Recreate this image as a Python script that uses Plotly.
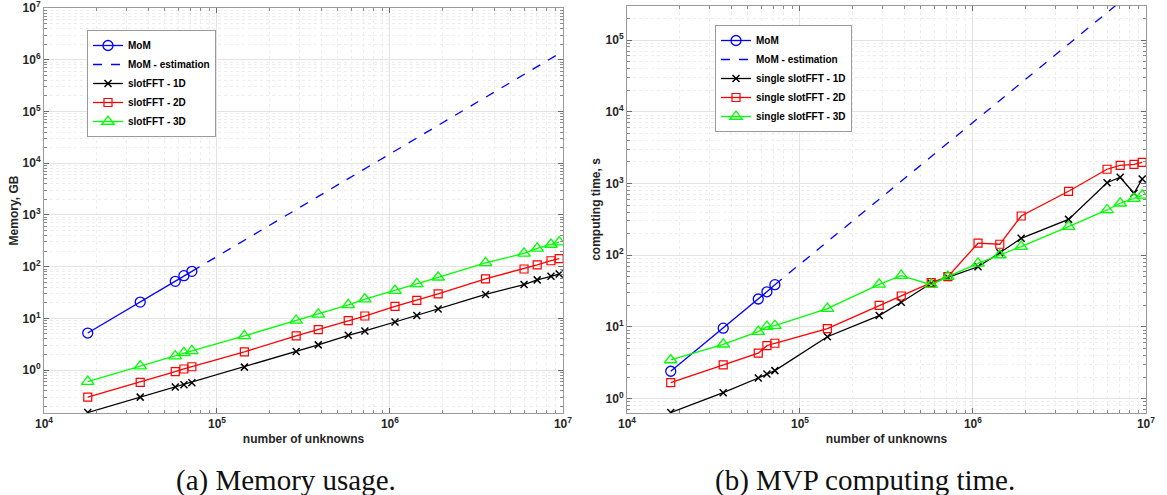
import plotly.graph_objects as go

# Problem sizes (number of unknowns)
n_unknowns = [17900, 36000, 57400, 64400, 71600, 144000, 287000, 385000, 574000,
              716000, 1070000, 1430000, 1900000, 3570000, 5960000, 7100000, 8530000, 9520000]
n_mom = n_unknowns[:5]
n_mom_est = [71600, 1e7]

# Memory usage, GB
mem_mom = [5.2, 20.6, 52, 67, 81]
mem_mom_est = [81, 1.45e6]
mem_1d = [0.151, 0.30, 0.47, 0.52, 0.57, 1.14, 2.29, 3.07, 4.71, 5.7, 8.5, 11.4, 15.1, 29, 45, 55.5, 65, 72]
mem_2d = [0.30, 0.58, 0.93, 1.05, 1.16, 2.25, 4.57, 6.06, 9.0, 11.1, 17, 22.2, 29.8, 58, 90, 108, 130, 143]
mem_3d = [0.60, 1.19, 1.86, 2.15, 2.35, 4.57, 9.1, 11.9, 18.3, 23.5, 34.5, 46.5, 62.3, 118, 180, 225, 268, 298]

# MVP computing time, s
t_mom = [2.41, 9.6, 24.5, 30.9, 38.8]
t_mom_est = [38.8, 6.7e5]
t_1d = [0.64, 1.21, 1.94, 2.21, 2.46, 7.3, 14.4, 22.1, 40.6, 49.2, 69, 108, 172, 316, 1025, 1220, 730, 1154]
t_2d = [1.67, 2.95, 4.3, 5.48, 5.92, 9.46, 20.0, 27, 41.4, 50.2, 147, 142, 352, 778, 1578, 1790, 1850, 1974]
t_3d = [3.46, 5.73, 8.6, 10.1, 10.4, 18.0, 39.3, 51.8, 38.8, 50.2, 77, 100.7, 131.5, 250, 427, 530, 614, 684]

# Decade tick positions and labels
x_tick_vals = [1e4, 1e5, 1e6, 1e7]
x_tick_text = ["10<sup>4</sup>", "10<sup>5</sup>", "10<sup>6</sup>", "10<sup>7</sup>"]
mem_tick_vals = [1e0, 1e1, 1e2, 1e3, 1e4, 1e5, 1e6, 1e7]
mem_tick_text = ["10<sup>0</sup>", "10<sup>1</sup>", "10<sup>2</sup>", "10<sup>3</sup>",
                 "10<sup>4</sup>", "10<sup>5</sup>", "10<sup>6</sup>", "10<sup>7</sup>"]
t_tick_vals = [1e0, 1e1, 1e2, 1e3, 1e4, 1e5]
t_tick_text = ["10<sup>0</sup>", "10<sup>1</sup>", "10<sup>2</sup>", "10<sup>3</sup>",
               "10<sup>4</sup>", "10<sup>5</sup>"]

W, H = 1167, 495
BLUE, RED, GREEN, BLACK = "#0000ff", "#ff0000", "#00ff00", "#000000"
LW = 1.3

fig = go.Figure()


def add_panel(xa, ya, leg, mom, est, d1, d2, d3, names):
    common = dict(xaxis=xa, yaxis=ya, legend=leg)
    fig.add_trace(go.Scatter(x=n_mom, y=mom, name=names[0], mode="lines+markers",
                             line=dict(color=BLUE, width=LW),
                             marker=dict(symbol="circle-open", size=10, color=BLUE,
                                         line=dict(width=1.3)), **common))
    fig.add_trace(go.Scatter(x=n_mom_est, y=est, name=names[1], mode="lines",
                             line=dict(color=BLUE, width=LW, dash="dash"), **common))
    fig.add_trace(go.Scatter(x=n_unknowns, y=d1, name=names[2], mode="lines+markers",
                             line=dict(color=BLACK, width=LW),
                             marker=dict(symbol="x-thin-open", size=7, color=BLACK,
                                         line=dict(width=1.5, color=BLACK)), **common))
    fig.add_trace(go.Scatter(x=n_unknowns, y=d2, name=names[3], mode="lines+markers",
                             line=dict(color=RED, width=LW),
                             marker=dict(symbol="square-open", size=8, color=RED,
                                         line=dict(width=1.2)), **common))
    fig.add_trace(go.Scatter(x=n_unknowns, y=d3, name=names[4], mode="lines+markers",
                             line=dict(color=GREEN, width=LW),
                             marker=dict(symbol="triangle-up-open", size=11, color=GREEN,
                                         line=dict(width=1.3)), **common))


add_panel("x", "y", "legend", mem_mom, mem_mom_est, mem_1d, mem_2d, mem_3d,
          ["MoM", "MoM - estimation", "slotFFT - 1D", "slotFFT - 2D", "slotFFT - 3D"])
add_panel("x2", "y2", "legend2", t_mom, t_mom_est, t_1d, t_2d, t_3d,
          ["MoM", "MoM - estimation", "single slotFFT - 1D", "single slotFFT - 2D",
           "single slotFFT - 3D"])

FONT = "Liberation Sans"
tickfont = dict(family=FONT, size=12, color="#262626", weight="bold")
titlefont = dict(family=FONT, size=12, color="#262626", weight="bold")


def axis_style(domain, rng, title, anchor, standoff, tv, tt):
    return dict(
        type="log", domain=domain, range=rng, anchor=anchor,
        showline=True, linecolor="#9a9a9a", linewidth=1, mirror="allticks",
        ticks="inside", ticklen=5, tickcolor="#6a6a6a",
        showgrid=True, gridcolor="#e3e3e3", gridwidth=1,
        tickmode="array", tickvals=tv, ticktext=tt, ticklabeloverflow="allow",
        tickfont=tickfont, zeroline=False, automargin=False,
        minor=dict(ticks="inside", ticklen=3, tickcolor="#8a8a8a", dtick="D1",
                   showgrid=True, gridcolor="#eeeeee", griddash="dot", gridwidth=1),
        title=dict(text=title, font=titlefont, standoff=standoff),
    )


ydom = [82 / H, 487 / H]
ydom2 = [82 / H, 489 / H]
legend_font = dict(family=FONT, size=10, color="#000000", weight="bold")
fig.update_layout(
    width=W, height=H,
    margin=dict(l=0, r=0, t=0, b=0),
    paper_bgcolor="white", plot_bgcolor="white",
    xaxis=axis_style([44 / W, 563 / W], [4, 7.0005], "number of unknowns", "y", 4,
                     x_tick_vals, x_tick_text),
    yaxis=axis_style(ydom, [-0.83, 7.0005], "Memory, GB", "x", 1,
                     mem_tick_vals, mem_tick_text),
    xaxis2=axis_style([627 / W, 1146 / W], [4, 7.0005], "number of unknowns", "y2", 4,
                      x_tick_vals, x_tick_text),
    yaxis2=axis_style(ydom2, [-0.2, 5.474], "computing time, s", "x2", 2,
                      t_tick_vals, t_tick_text),
    legend=dict(x=87 / W, y=1 - 30 / H, xanchor="left", yanchor="top",
                bgcolor="white", bordercolor="#9a9a9a", borderwidth=1,
                font=legend_font, tracegroupgap=0, itemwidth=30),
    legend2=dict(x=715 / W, y=1 - 25 / H, xanchor="left", yanchor="top",
                 bgcolor="white", bordercolor="#9a9a9a", borderwidth=1,
                 font=legend_font, tracegroupgap=0, itemwidth=30),
    showlegend=True,
    annotations=[
        dict(text="(a) Memory usage.", x=286 / W, y=1 - 480 / H, xref="paper", yref="paper",
             xanchor="center", yanchor="middle", showarrow=False,
             font=dict(family="Liberation Serif", size=29, color="#111111")),
        dict(text="(b) MVP computing time.", x=865 / W, y=1 - 480 / H, xref="paper",
             yref="paper", xanchor="center", yanchor="middle", showarrow=False,
             font=dict(family="Liberation Serif", size=29, color="#111111")),
    ],
)

fig.write_html("out.html")
